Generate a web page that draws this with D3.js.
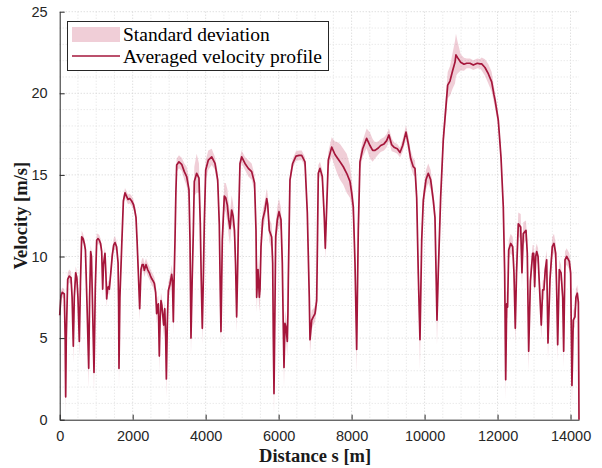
<!DOCTYPE html>
<html>
<head>
<meta charset="utf-8">
<script src="https://cdn.jsdelivr.net/npm/d3@7"></script>
<style>
  html, body { margin: 0; padding: 0; background: #fff; }
  svg { display: block; }
  .tick text { font-family: "Liberation Sans", Arial, sans-serif; font-size: 14.5px; fill: #262626; }
  .title { font-family: "Liberation Serif", "Times New Roman", serif; font-weight: bold; font-size: 18.5px; fill: #1a1a1a; }
  .legend text { font-family: "Liberation Serif", "Times New Roman", serif; font-size: 19.5px; fill: #000; }
</style>
</head>
<body>
<div id="chart"></div>
<script>
// distance along route [m], averaged velocity [m/s], standard deviation [m/s]
const distance = [
  0, 36, 70, 126, 150, 164, 180, 219, 260, 310,
  340, 373, 400, 438, 470, 500, 538, 570, 602, 640,
  675, 705, 748, 795, 820, 849, 870, 900, 940, 975,
  1014, 1050, 1086, 1120, 1151, 1178, 1200, 1241, 1265, 1288,
  1310, 1332, 1360, 1400, 1442, 1480, 1515, 1560, 1600, 1615,
  1625, 1650, 1699, 1745, 1790, 1830, 1872, 1920, 1973, 2020,
  2060, 2091, 2120, 2155, 2192, 2228, 2260, 2292, 2319, 2365,
  2410, 2456, 2490, 2520, 2560, 2593, 2630, 2657, 2680, 2703,
  2730, 2750, 2776, 2800, 2850, 2880, 2905, 2923, 2950, 2977,
  3022, 3069, 3090, 3114, 3130, 3160, 3185, 3206, 3269, 3343,
  3415, 3480, 3543, 3571, 3598, 3630, 3661, 3689, 3754, 3817,
  3853, 3880, 3908, 3935, 3963, 4001, 4072, 4166, 4256, 4330,
  4374, 4400, 4420, 4440, 4456, 4511, 4550, 4594, 4630, 4667,
  4713, 4750, 4790, 4820, 4850, 4875, 4895, 4941, 4987, 5078,
  5169, 5261, 5306, 5340, 5380, 5398, 5435, 5471, 5490, 5517,
  5563, 5626, 5673, 5700, 5745, 5809, 5837, 5855, 5873, 5895,
  5919, 5964, 6010, 6065, 6101, 6125, 6147, 6174, 6200, 6238,
  6255, 6265, 6290, 6311, 6385, 6476, 6560, 6632, 6722, 6786,
  6840, 6860, 6906, 6950, 6997, 7043, 7065, 7087, 7134, 7197,
  7251, 7279, 7317, 7361, 7454, 7545, 7620, 7682, 7773, 7865,
  7955, 8002, 8046, 8093, 8139, 8183, 8229, 8304, 8412, 8503,
  8577, 8641, 8731, 8797, 8888, 8961, 9024, 9098, 9161, 9252,
  9326, 9400, 9490, 9554, 9619, 9690, 9737, 9784, 9827, 9874,
  9921, 9965, 10038, 10101, 10167, 10238, 10285, 10315, 10340, 10375,
  10441, 10512, 10586, 10633, 10696, 10770, 10833, 10860, 10900, 10989,
  11080, 11154, 11244, 11335, 11445, 11518, 11565, 11655, 11746, 11839,
  11902, 11930, 12020, 12094, 12157, 12195, 12223, 12250, 12275, 12305,
  12360, 12415, 12450, 12486, 12520, 12568, 12634, 12669, 12705, 12779,
  12815, 12853, 12900, 12962, 12990, 13017, 13045, 13072, 13110, 13150,
  13198, 13236, 13270, 13308, 13346, 13382, 13437, 13500, 13546, 13593,
  13620, 13648, 13692, 13740, 13785, 13812, 13848, 13894, 13966, 14003,
  14039, 14075, 14121, 14148, 14184, 14215, 14225, 14232
];

const velocity = [
  6.4, 7.6, 7.8, 7.7, 5.0, 1.4, 5.0, 8.6, 8.8, 8.7,
  7.5, 4.5, 7.5, 9.0, 8.7, 7.5, 4.8, 8.5, 11.2, 11.1,
  10.8, 10.4, 7.1, 3.15, 7.5, 10.3, 10.0, 7.0, 2.9, 8.0,
  11.0, 11.1, 11.0, 10.8, 10.3, 8.0, 9.5, 10.2, 9.0, 7.4,
  8.0, 8.15, 8.0, 9.0, 10.1, 10.7, 10.85, 10.6, 9.6, 7.0,
  3.15, 7.5, 10.6, 13.4, 13.9, 13.7, 13.5, 13.55, 13.4, 13.2,
  12.8, 12.4, 11.0, 9.0, 6.8, 9.2, 9.5, 9.5, 9.15, 9.5,
  9.2, 9.0, 8.8, 8.65, 8.5, 8.35, 7.8, 6.5, 7.0, 7.1,
  3.9, 6.0, 7.3, 7.0, 5.8, 6.8, 5.0, 2.5, 6.0, 7.9,
  8.3, 8.9, 8.5, 6.0, 8.0, 11.0, 14.0, 15.6, 15.8, 15.65,
  15.2, 14.9, 14.1, 11.0, 5.0, 8.5, 11.4, 14.6, 15.1, 14.8,
  12.0, 8.5, 5.6, 8.5, 12.0, 15.3, 15.9, 16.1, 15.7, 14.7,
  12.0, 8.0, 5.4, 8.5, 11.0, 13.7, 13.6, 13.15, 12.3, 11.7,
  12.85, 12.5, 11.6, 9.5, 6.3, 9.0, 11.6, 15.7, 16.1, 15.7,
  15.4, 15.2, 14.8, 14.5, 11.6, 7.5, 9.2, 7.5, 8.0, 10.6,
  12.25, 12.85, 13.55, 13.2, 11.6, 11.2, 9.6, 5.0, 1.6, 6.0,
  11.2, 12.25, 12.75, 12.25, 9.6, 6.0, 3.2, 5.9, 5.7, 4.8,
  6.5, 8.5, 12.0, 14.7, 15.7, 16.15, 16.2, 16.2, 15.8, 12.7,
  7.5, 4.9, 6.1, 6.3, 6.5, 7.3, 11.0, 15.1, 15.4, 14.9,
  12.4, 10.5, 13.0, 15.9, 16.7, 16.25, 16.0, 15.8, 15.5, 15.1,
  14.6, 13.9, 13.05, 9.6, 4.3, 11.6, 15.8, 16.6, 17.24, 16.8,
  16.5, 16.5, 16.65, 16.8, 16.9, 17.1, 17.45, 16.85, 16.7, 16.6,
  16.37, 16.8, 17.62, 16.9, 16.0, 15.5, 15.4, 13.6, 9.0, 4.9,
  11.0, 13.46, 14.7, 15.1, 14.7, 13.46, 12.4, 9.0, 6.1, 9.0,
  13.66, 17.14, 19.2, 20.5, 20.75, 21.4, 21.9, 22.35, 22.2, 21.9,
  21.78, 21.84, 21.84, 21.73, 21.84, 21.8, 21.8, 21.58, 21.2, 20.7,
  19.9, 19.6, 18.36, 16.1, 13.05, 9.0, 2.45, 7.1, 6.9, 10.4,
  10.8, 10.6, 9.0, 5.6, 9.0, 12.0, 11.8, 9.0, 11.4, 11.6,
  10.2, 4.2, 8.5, 10.2, 10.2, 8.15, 10.0, 10.3, 10.0, 8.1,
  5.8, 7.95, 7.95, 9.2, 9.8, 4.7, 8.6, 10.6, 10.8, 10.2,
  8.0, 4.6, 9.2, 9.0, 7.5, 4.2, 9.8, 10.0, 9.7, 9.0,
  2.1, 6.1, 6.3, 7.5, 7.75, 7.2, 3.0, 0.0
];

const deviation = [
  .3, .3, .3, .3, .8, 1.2, .8, .4, .4, .4,
  .5, 1.0, .5, .4, .4, .5, 1.0, .5, .4, .3,
  .3, .3, .6, 1.2, .6, .4, .4, .6, 1.2, .6,
  .4, .3, .3, .3, .3, .5, .4, .4, .4, .5,
  .4, .4, .4, .4, .4, .4, .4, .3, .4, .8,
  1.2, .8, .4, .3, .3, .3, .3, .3, .3, .3,
  .3, .3, .3, .4, .7, .4, .4, .4, .4, .4,
  .4, .4, .4, .4, .4, .4, .5, .6, .5, .5,
  1.0, .7, .5, .5, .7, .5, .8, 1.2, .7, .5,
  .5, .6, .6, .8, .6, .5, .5, .4, .4, .4,
  .5, .6, .7, .7, 1.0, .8, .8, .9, 1.2, .9,
  .7, .8, 1.0, .7, .6, .6, .6, .5, .4, .5,
  .6, .8, 1.0, .8, .8, .8, .9, 1.0, 1.0, 1.0,
  .9, .8, .7, .8, 1.0, .7, .5, .4, .4, .4,
  .5, .5, .5, .5, .7, .9, .8, .9, .8, .7,
  .6, .6, .6, .6, .7, .8, .9, 1.3, 1.3, 1.0,
  .8, .8, .8, .7, .8, 1.0, 1.2, .8, .7, .9,
  .8, .7, .5, .4, .3, .3, .3, .3, .3, .4,
  .6, .9, .6, .5, .5, .6, .6, .5, .4, .4,
  .5, .7, .6, .5, .6, .8, 1.0, 1.1, 1.1, 1.2,
  1.0, .8, .7, .9, 1.5, .7, .5, .5, .6, .8,
  .7, .5, .4, .4, .4, .4, .4, .4, .3, .3,
  .3, .4, .4, .5, .5, .5, .5, .6, 1.0, 1.8,
  .8, .6, .6, .6, .6, .5, .6, 1.0, 1.5, 1.0,
  .6, .6, .7, .8, .9, 1.1, 1.3, 1.3, 1.0, .5,
  .4, .3, .3, .3, .3, .3, .4, .5, .6, .6,
  .5, .5, .4, .4, .4, .6, 1.2, .8, .7, .6,
  .6, .6, .7, 1.0, .8, .7, .8, .9, .7, .6,
  .7, 1.2, .7, .5, .5, .6, .5, .5, .5, .6,
  .9, .6, .6, .6, .6, 1.0, .6, .6, .6, .6,
  .7, 1.0, .6, .5, .6, 1.0, .5, .5, .5, .6,
  1.2, .6, .6, .5, .5, .5, 1.0, 0
];

const xTicks = [0, 2000, 4000, 6000, 8000, 10000, 12000, 14000];
const yTicks = [0, 5, 10, 15, 20, 25];
const legendLabels = ["Standard deviation", "Averaged velocity profile"];

const LINE_COLOR = "#a5163b";
const BAND_COLOR = "rgba(200, 80, 110, 0.28)";
const AXIS_COLOR = "#262626";

const W = 602, H = 468;
const margin = { top: 11.7, right: 23, bottom: 48.3, left: 59.7 };
const width = W - margin.left - margin.right;
const height = H - margin.top - margin.bottom;

const n = Math.min(distance.length, velocity.length, deviation.length);
const data = [];
for (let i = 0; i < n; i++) {
  data.push({ s: distance[i], v: velocity[i], sd: deviation[i] });
}

const x = d3.scaleLinear().domain([0, 14232]).range([0, width]);
const y = d3.scaleLinear().domain([0, 25]).range([height, 0]);

const svg = d3.select("#chart").append("svg")
  .attr("width", W)
  .attr("height", H);

const g = svg.append("g")
  .attr("transform", "translate(" + margin.left + "," + margin.top + ")");

// minor + major grid, dotted like matlab
const xMinor = d3.range(500, 14232, 500);
const yMinor = d3.range(1, 25.01, 1);

g.append("g").selectAll("line")
  .data(xMinor)
  .enter().append("line")
  .attr("x1", d => x(d)).attr("x2", d => x(d))
  .attr("y1", 0).attr("y2", height)
  .attr("stroke", d => d % 2000 === 0 ? "#d2d2d2" : "#e0e0e0")
  .attr("stroke-width", 1)
  .attr("stroke-dasharray", "1,2");

g.append("g").selectAll("line")
  .data(yMinor)
  .enter().append("line")
  .attr("x1", 0).attr("x2", width)
  .attr("y1", d => y(d)).attr("y2", d => y(d))
  .attr("stroke", d => d % 5 === 0 ? "#d2d2d2" : "#e0e0e0")
  .attr("stroke-width", 1)
  .attr("stroke-dasharray", "1,2");

// std band
const band = d3.area()
  .x(d => x(d.s))
  .y0(d => y(Math.max(0, d.v - d.sd)))
  .y1(d => y(d.v + d.sd));

g.append("path")
  .datum(data)
  .attr("d", band)
  .attr("fill", BAND_COLOR)
  .attr("stroke", "none");

// averaged profile
const line = d3.line()
  .x(d => x(d.s))
  .y(d => y(d.v));

g.append("path")
  .datum(data)
  .attr("d", line)
  .attr("fill", "none")
  .attr("stroke", LINE_COLOR)
  .attr("stroke-width", 1.7)
  .attr("stroke-linejoin", "round");

// axes
const xAxis = g.append("g")
  .attr("transform", "translate(0," + height + ")")
  .call(d3.axisBottom(x).tickValues(xTicks).tickFormat(d3.format("d")).tickSizeInner(-5).tickSizeOuter(0).tickPadding(11));
const yAxis = g.append("g")
  .call(d3.axisLeft(y).tickValues(yTicks).tickSizeInner(-5).tickSizeOuter(0).tickPadding(12));

[xAxis, yAxis].forEach(a => {
  a.select(".domain").attr("stroke", AXIS_COLOR);
  a.selectAll(".tick line").attr("stroke", AXIS_COLOR);
  a.attr("font-family", null).attr("font-size", null);
});

// axis titles
svg.append("text")
  .attr("class", "title")
  .attr("x", margin.left + x(7000))
  .attr("y", 462)
  .attr("text-anchor", "middle")
  .text("Distance s [m]");

svg.append("text")
  .attr("class", "title")
  .attr("transform", "translate(27," + (margin.top + height / 2) + ") rotate(-90)")
  .attr("text-anchor", "middle")
  .text("Velocity [m/s]");

// legend
const legend = svg.append("g").attr("class", "legend");
legend.append("rect")
  .attr("x", 67.5).attr("y", 21.5)
  .attr("width", 261).attr("height", 49)
  .attr("fill", "#fff")
  .attr("stroke", AXIS_COLOR)
  .attr("stroke-width", 1);

legend.append("rect")
  .attr("x", 72).attr("y", 27)
  .attr("width", 48).attr("height", 15)
  .attr("fill", BAND_COLOR);

legend.append("line")
  .attr("x1", 72).attr("x2", 120)
  .attr("y1", 56).attr("y2", 56)
  .attr("stroke", LINE_COLOR)
  .attr("stroke-width", 1.7);

legend.selectAll("text.lbl")
  .data(legendLabels)
  .enter().append("text")
  .attr("class", "lbl")
  .attr("x", 123)
  .attr("y", (d, i) => 41 + i * 22)
  .text(d => d);
</script>
</body>
</html>
